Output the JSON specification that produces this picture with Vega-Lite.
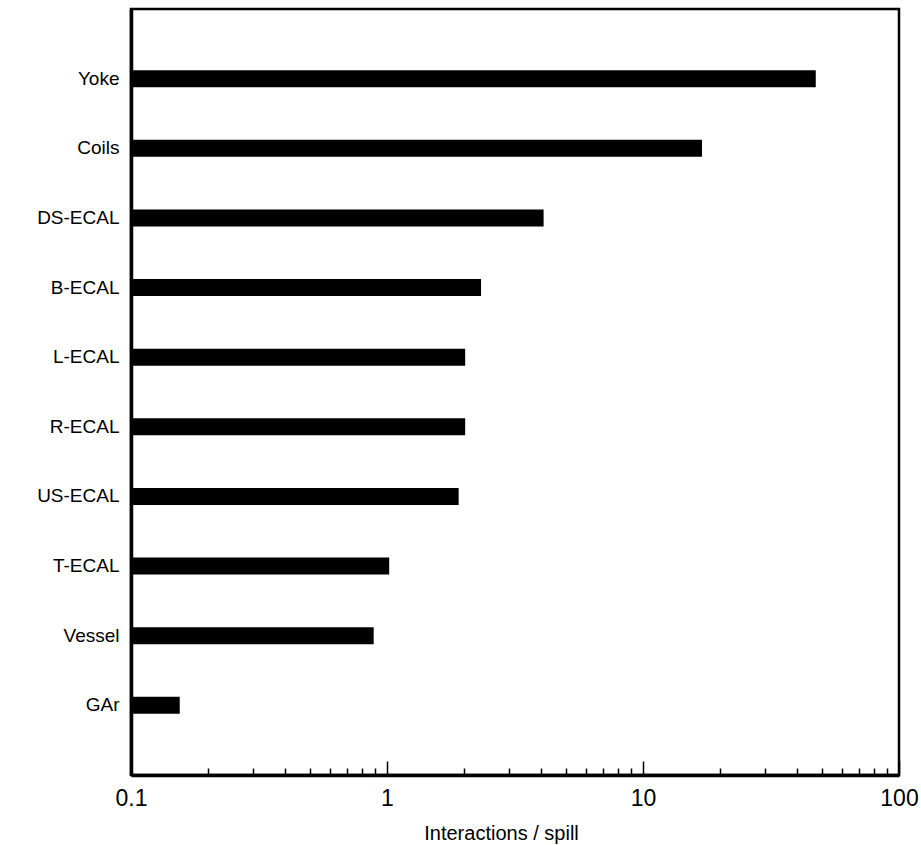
{
  "$schema": "https://vega.github.io/schema/vega-lite/v6.json",
  "width": 768,
  "height": 766,
  "autosize": {"type": "none"},
  "padding": {"left": 131, "top": 9, "right": 22, "bottom": 70},
  "background": "white",
  "config": {
    "view": {"stroke": "black", "strokeWidth": 2.5},
    "font": "Liberation Sans"
  },
  "data": {
    "values": [
      {"component": "Yoke", "interactions": 47.3},
      {"component": "Coils", "interactions": 17.0},
      {"component": "DS-ECAL", "interactions": 4.09},
      {"component": "B-ECAL", "interactions": 2.33},
      {"component": "L-ECAL", "interactions": 2.02},
      {"component": "R-ECAL", "interactions": 2.02},
      {"component": "US-ECAL", "interactions": 1.905},
      {"component": "T-ECAL", "interactions": 1.02},
      {"component": "Vessel", "interactions": 0.887},
      {"component": "GAr", "interactions": 0.155}
    ]
  },
  "mark": {"type": "bar", "color": "black"},
  "encoding": {
    "y": {
      "field": "component",
      "type": "nominal",
      "sort": null,
      "scale": {"paddingInner": 0.756, "paddingOuter": 0.878},
      "axis": {
        "title": null,
        "ticks": false,
        "domain": true,
        "domainColor": "black",
        "domainWidth": 3.5,
        "labelFont": "Liberation Sans",
        "labelFontSize": 19,
        "labelColor": "black",
        "labelPadding": 12
      }
    },
    "x": {
      "field": "interactions",
      "type": "quantitative",
      "scale": {"type": "log", "domain": [0.1, 100], "nice": false},
      "axis": {
        "title": "Interactions / spill",
        "titleFont": "Liberation Sans",
        "titleFontSize": 20,
        "titleFontWeight": "normal",
        "titleColor": "black",
        "titlePadding": 6,
        "titleX": 370,
        "titleAnchor": "middle",
        "values": [0.1, 0.2, 0.3, 0.4, 0.5, 0.6, 0.7, 0.8, 0.9, 1, 2, 3, 4, 5, 6, 7, 8, 9, 10, 20, 30, 40, 50, 60, 70, 80, 90, 100],
        "labelExpr": "indexof([0.1, 1, 10, 100], datum.value) >= 0 ? format(datum.value, '~g') : ''",
        "labelOverlap": false,
        "labelFlush": false,
        "labelFont": "Liberation Sans",
        "labelFontSize": 23,
        "labelColor": "black",
        "labelPadding": 26,
        "grid": false,
        "domainColor": "black",
        "domainWidth": 3.5,
        "tickColor": "black",
        "tickWidth": 1.5,
        "tickSize": {"condition": {"test": "indexof([0.1, 1, 10, 100], datum.value) >= 0", "value": -14}, "value": -7}
      }
    },
    "x2": {"datum": 0.1}
  }
}
